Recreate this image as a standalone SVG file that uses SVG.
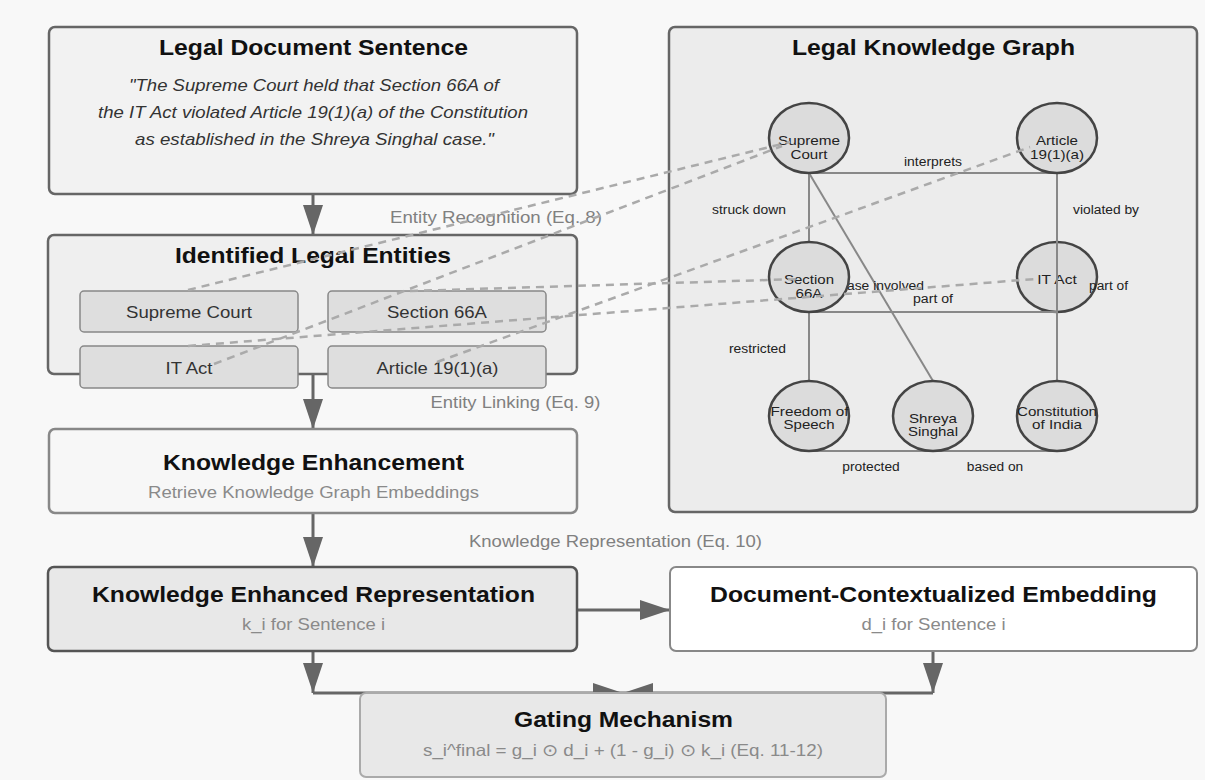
<svg xmlns="http://www.w3.org/2000/svg" width="1205" height="780" viewBox="0 0 1205 780">
<defs>
<marker id="arr" markerUnits="userSpaceOnUse" markerWidth="30" markerHeight="20" refX="30" refY="10" orient="auto"><path d="M0,0 L30,10 L0,20 Z" fill="#666"/></marker>
<style>
text{font-family:"Liberation Sans",Arial,sans-serif;text-anchor:middle;lengthAdjust:spacingAndGlyphs}
.t{font-size:22px;font-weight:bold;fill:#111}
.q{font-size:16.5px;font-style:italic;fill:#333}
.s{font-size:16.5px;fill:#8a8a8a}
.e{font-size:16.5px;fill:#333}
.lbl{font-size:16.5px;fill:#808080}
.n{font-size:13.5px;fill:#222}
.el{font-size:12.5px;fill:#222}
.box{stroke-width:2.5}
.flow{stroke:#666;stroke-width:3;fill:none}
.kge{stroke:#888;stroke-width:2;fill:none}
.dash{stroke:#aaa;stroke-width:2.5;stroke-dasharray:8 6;fill:none}
.node{fill:#dcdcdc;stroke:#444;stroke-width:2.5}
.ent{fill:#dedede;stroke:#888;stroke-width:1.5}
</style>
</defs>
<rect width="1205" height="780" fill="#f8f8f8"/>

<g id="connectors">
<line class="flow" x1="313" y1="194" x2="313" y2="235" marker-end="url(#arr)"/>
<line class="flow" x1="313" y1="374" x2="313" y2="429" marker-end="url(#arr)"/>
<line class="flow" x1="313" y1="513" x2="313" y2="567" marker-end="url(#arr)"/>
<line class="flow" x1="577" y1="610" x2="670" y2="610" marker-end="url(#arr)"/>
<line class="flow" x1="313" y1="651" x2="313" y2="693" marker-end="url(#arr)"/>
<line class="flow" x1="313" y1="693" x2="623" y2="693" marker-end="url(#arr)"/>
<line class="flow" x1="933" y1="651" x2="933" y2="693" marker-end="url(#arr)"/>
<line class="flow" x1="933" y1="693" x2="623" y2="693" marker-end="url(#arr)"/>
<text class="lbl" x="496" y="223" textLength="212" lengthAdjust="spacingAndGlyphs">Entity Recognition (Eq. 8)</text>
<text class="lbl" x="515.5" y="408" textLength="170" lengthAdjust="spacingAndGlyphs">Entity Linking (Eq. 9)</text>
<text class="lbl" x="615.5" y="547" textLength="293" lengthAdjust="spacingAndGlyphs">Knowledge Representation (Eq. 10)</text>
</g>

<g id="legal-document-sentence">
<rect class="box" x="49" y="27" width="528" height="167" rx="6" fill="#f2f2f2" stroke="#666"/>
<text class="t" x="313.5" y="55" textLength="309" lengthAdjust="spacingAndGlyphs">Legal Document Sentence</text>
<text class="q" x="314" y="91" textLength="370" lengthAdjust="spacingAndGlyphs">"The Supreme Court held that Section 66A of</text>
<text class="q" x="313" y="118" textLength="430" lengthAdjust="spacingAndGlyphs">the IT Act violated Article 19(1)(a) of the Constitution</text>
<text class="q" x="314.5" y="145" textLength="359" lengthAdjust="spacingAndGlyphs">as established in the Shreya Singhal case."</text>
</g>

<g id="identified-legal-entities">
<rect class="box" x="48" y="235" width="529" height="139" rx="6" fill="#efefef" stroke="#666"/>
<text class="t" x="313" y="263" textLength="276" lengthAdjust="spacingAndGlyphs">Identified Legal Entities</text>
<g id="ent-supreme-court"><rect class="ent" x="80" y="291" width="218" height="41" rx="4"/><text class="e" x="189" y="318" textLength="126" lengthAdjust="spacingAndGlyphs">Supreme Court</text></g>
<g id="ent-section-66a"><rect class="ent" x="328" y="291" width="218" height="41" rx="4"/><text class="e" x="437" y="318" textLength="100" lengthAdjust="spacingAndGlyphs">Section 66A</text></g>
<g id="ent-it-act"><rect class="ent" x="80" y="346" width="218" height="42" rx="4"/><text class="e" x="189" y="374" textLength="47" lengthAdjust="spacingAndGlyphs">IT Act</text></g>
<g id="ent-article"><rect class="ent" x="328" y="346" width="218" height="42" rx="4"/><text class="e" x="437.5" y="374" textLength="122" lengthAdjust="spacingAndGlyphs">Article 19(1)(a)</text></g>
</g>

<g id="knowledge-enhancement">
<rect class="box" x="49" y="429" width="528" height="84" rx="6" fill="#f7f7f7" stroke="#888" stroke-width="2"/>
<text class="t" x="313.5" y="470" textLength="301" lengthAdjust="spacingAndGlyphs">Knowledge Enhancement</text>
<text class="s" x="313.5" y="498" textLength="331" lengthAdjust="spacingAndGlyphs">Retrieve Knowledge Graph Embeddings</text>
</g>

<g id="knowledge-enhanced-representation">
<rect class="box" x="48" y="567" width="529" height="84" rx="6" fill="#e8e8e8" stroke="#555"/>
<text class="t" x="313.5" y="602" textLength="443" lengthAdjust="spacingAndGlyphs">Knowledge Enhanced Representation</text>
<text class="s" x="313.5" y="630" textLength="143" lengthAdjust="spacingAndGlyphs">k_i for Sentence i</text>
</g>

<g id="document-contextualized-embedding">
<rect x="670" y="567" width="527" height="84" rx="6" fill="#ffffff" stroke="#888" stroke-width="2"/>
<text class="t" x="933.5" y="602" textLength="447" lengthAdjust="spacingAndGlyphs">Document-Contextualized Embedding</text>
<text class="s" x="933.5" y="630" textLength="144" lengthAdjust="spacingAndGlyphs">d_i for Sentence i</text>
</g>

<g id="gating-mechanism">
<rect x="360" y="693" width="526" height="84" rx="6" fill="#e8e8e8" stroke="#aaa" stroke-width="2"/>
<text class="t" x="623.5" y="727" textLength="219" lengthAdjust="spacingAndGlyphs">Gating Mechanism</text>
<text class="s" x="623" y="756" textLength="400" lengthAdjust="spacingAndGlyphs">s_i^final = g_i ⊙ d_i + (1 - g_i) ⊙ k_i (Eq. 11-12)</text>
</g>

<g id="legal-knowledge-graph">
<rect class="box" x="669" y="27" width="528" height="485" rx="6" fill="#ececec" stroke="#666"/>
<text class="t" x="933.5" y="55" textLength="283" lengthAdjust="spacingAndGlyphs">Legal Knowledge Graph</text>
</g>

<g id="kg-it-act">
<ellipse class="node" cx="1057" cy="277" rx="40" ry="35"/>
<text class="n" x="1057" y="284" textLength="39.5" lengthAdjust="spacingAndGlyphs">IT Act</text>
</g>

<g id="kg-edges">
<line class="kge" x1="809" y1="173" x2="1057" y2="173"/>
<line class="kge" x1="809" y1="173" x2="809" y2="242"/>
<line class="kge" x1="1057" y1="173" x2="1057" y2="381"/>
<line class="kge" x1="809" y1="173" x2="933" y2="381"/>
<line class="kge" x1="809" y1="312" x2="1057" y2="312"/>
<line class="kge" x1="809" y1="312" x2="809" y2="381"/>
<line class="kge" x1="809" y1="451" x2="1057" y2="451"/>
<text class="el" x="933" y="166" textLength="58" lengthAdjust="spacingAndGlyphs">interprets</text>
<text class="el" x="749" y="214" textLength="74" lengthAdjust="spacingAndGlyphs">struck down</text>
<text class="el" x="1106" y="214" textLength="66" lengthAdjust="spacingAndGlyphs">violated by</text>
<text class="el" x="882" y="290" textLength="84" lengthAdjust="spacingAndGlyphs">case involved</text>
<text class="el" x="933" y="303" textLength="40" lengthAdjust="spacingAndGlyphs">part of</text>
<text class="el" x="1108.5" y="290" textLength="39" lengthAdjust="spacingAndGlyphs">part of</text>
<text class="el" x="757.5" y="353" textLength="57" lengthAdjust="spacingAndGlyphs">restricted</text>
<text class="el" x="871" y="471" textLength="57.5" lengthAdjust="spacingAndGlyphs">protected</text>
<text class="el" x="995" y="471" textLength="56.5" lengthAdjust="spacingAndGlyphs">based on</text>
</g>

<g id="kg-supreme-court">
<ellipse class="node" cx="809" cy="138" rx="40" ry="35"/>
<text class="n" x="809" y="145" textLength="62" lengthAdjust="spacingAndGlyphs">Supreme</text>
<text class="n" x="809" y="159" textLength="37" lengthAdjust="spacingAndGlyphs">Court</text>
</g>
<g id="kg-article">
<ellipse class="node" cx="1057" cy="138" rx="40" ry="35"/>
<text class="n" x="1057" y="145" textLength="42" lengthAdjust="spacingAndGlyphs">Article</text>
<text class="n" x="1057" y="159" textLength="54" lengthAdjust="spacingAndGlyphs">19(1)(a)</text>
</g>
<g id="kg-section-66a">
<ellipse class="node" cx="809" cy="277" rx="40" ry="35"/>
<text class="n" x="809" y="284" textLength="50" lengthAdjust="spacingAndGlyphs">Section</text>
<text class="n" x="809" y="298" textLength="27" lengthAdjust="spacingAndGlyphs">66A</text>
</g>
<g id="kg-freedom">
<ellipse class="node" cx="809" cy="416" rx="40" ry="35"/>
<text class="n" x="809.5" y="416" textLength="78" lengthAdjust="spacingAndGlyphs">Freedom of</text>
<text class="n" x="809" y="429" textLength="51" lengthAdjust="spacingAndGlyphs">Speech</text>
</g>
<g id="kg-shreya">
<ellipse class="node" cx="933" cy="416" rx="40" ry="35"/>
<text class="n" x="933" y="423" textLength="48" lengthAdjust="spacingAndGlyphs">Shreya</text>
<text class="n" x="933" y="436" textLength="50" lengthAdjust="spacingAndGlyphs">Singhal</text>
</g>
<g id="kg-constitution">
<ellipse class="node" cx="1057" cy="416" rx="40" ry="35"/>
<text class="n" x="1057" y="416" textLength="80" lengthAdjust="spacingAndGlyphs">Constitution</text>
<text class="n" x="1057" y="429" textLength="50" lengthAdjust="spacingAndGlyphs">of India</text>
</g>

<g id="entity-links">
<line class="dash" x1="188" y1="290" x2="790" y2="142"/>
<line class="dash" x1="214" y1="364" x2="782" y2="146"/>
<line class="dash" x1="410" y1="291" x2="800" y2="279"/>
<line class="dash" x1="188" y1="346" x2="1035" y2="279"/>
<line class="dash" x1="437" y1="362" x2="1030" y2="147"/>
</g>
</svg>
